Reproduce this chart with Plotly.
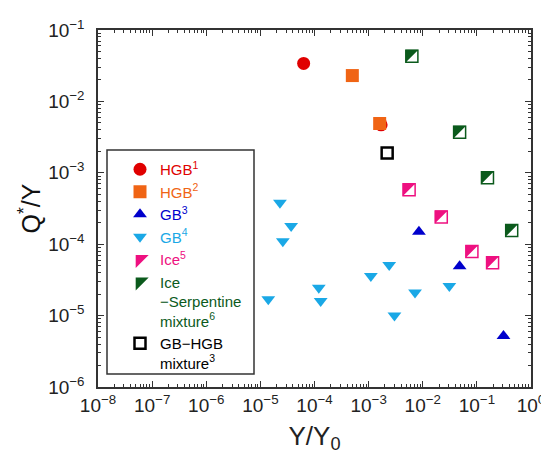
import plotly.graph_objects as go

# ---------------- data ----------------
hgb1_x = [6.3e-5, 1.7e-3]
hgb1_y = [3.4e-2, 4.7e-3]

hgb2_x = [5.0e-4, 1.6e-3]
hgb2_y = [2.3e-2, 4.9e-3]

gb3_x = [8.5e-3, 4.8e-2, 0.31]
gb3_y = [1.5e-4, 4.9e-5, 5.2e-6]

gb4_x = [2.3e-5, 3.7e-5, 2.6e-5, 1.4e-5, 1.2e-4, 1.3e-4, 1.1e-3, 2.4e-3, 3.0e-3, 7.2e-3, 3.1e-2]
gb4_y = [3.8e-4, 1.8e-4, 1.1e-4, 1.7e-5, 2.45e-5, 1.6e-5, 3.6e-5, 5.1e-5, 1.0e-5, 2.1e-5, 2.6e-5]

ice_x = [5.6e-3, 2.2e-2, 8.1e-2, 0.195]
ice_y = [5.8e-4, 2.4e-4, 7.9e-5, 5.5e-5]

ser_x = [6.3e-3, 4.8e-2, 0.157, 0.44]
ser_y = [4.3e-2, 3.7e-3, 8.5e-4, 1.55e-4]

mix_x = [2.2e-3]
mix_y = [1.9e-3]

x_tickvals = [1e-8, 1e-7, 1e-6, 1e-5, 1e-4, 1e-3, 1e-2, 1e-1, 1]
x_ticktext = ["10<sup>−8</sup>", "10<sup>−7</sup>", "10<sup>−6</sup>", "10<sup>−5</sup>",
              "10<sup>−4</sup>", "10<sup>−3</sup>", "10<sup>−2</sup>", "10<sup>−1</sup>",
              "10<sup>0</sup>"]
y_tickvals = [1e-6, 1e-5, 1e-4, 1e-3, 1e-2, 1e-1]
y_ticktext = ["10<sup>−6</sup>", "10<sup>−5</sup>", "10<sup>−4</sup>", "10<sup>−3</sup>",
              "10<sup>−2</sup>", "10<sup>−1</sup>"]

# legend labels, one list entry per text line
names = {
    "hgb1": ["HGB<sup>1</sup>"],
    "hgb2": ["HGB<sup>2</sup>"],
    "gb3": ["GB<sup>3</sup>"],
    "gb4": ["GB<sup>4</sup>"],
    "ice": ["Ice<sup>5</sup>"],
    "ser": ["Ice", "−Serpentine", "mixture<sup>6</sup>"],
    "mix": ["GB−HGB", "mixture<sup>3</sup>"],
}

# ---------------- styling ----------------
RED = "#e00000"
ORANGE = "#f06414"
BLUE = "#0000cc"
CYAN = "#1aa8e6"
PINK = "#ee1080"
GREEN = "#0b5a1c"
FONT = "Liberation Sans, Arial, sans-serif"

OFF = 8                        # page body margin of the browser
W, H = 549 - OFF, 457 - OFF
# plot area in page pixels: x 98..531, y 30..387
ML, MT = 98 - OFF, 30 - OFF
MR, MB = W - (531 - OFF), H - (387 - OFF)
PW, PH = W - ML - MR, H - MT - MB
XR = [-8, 0]
YR = [-6, -1]
SQ = 13  # square marker size (px)

# half-filled squares: a right triangle drawn on a twin axis whose range is
# offset so the triangle sits in the upper-left half of the square
shift_px = SQ / 6.0
dx = shift_px * (XR[1] - XR[0]) / PW
dy = shift_px * (YR[1] - YR[0]) / PH


def px_x(p):   # page x pixel -> paper fraction
    return (p - OFF - ML) / PW


def px_y(p):   # page y pixel -> paper fraction
    return 1 - (p - OFF - MT) / PH


def label(color, lines):
    return "<br>".join('<span style="color:%s">%s</span>' % (color, t) for t in lines)


fig = go.Figure()

fig.add_trace(go.Scatter(x=hgb1_x, y=hgb1_y, mode="markers", name=label(RED, names["hgb1"]),
                         legendgroup="a", marker=dict(symbol="circle", size=13, color=RED)))
fig.add_trace(go.Scatter(x=hgb2_x, y=hgb2_y, mode="markers", name=label(ORANGE, names["hgb2"]),
                         legendgroup="b", marker=dict(symbol="square", size=SQ, color=ORANGE)))
fig.add_trace(go.Scatter(x=gb3_x, y=gb3_y, mode="markers", name=label(BLUE, names["gb3"]),
                         legendgroup="c", marker=dict(symbol="triangle-up", size=12, color=BLUE)))
fig.add_trace(go.Scatter(x=gb4_x, y=gb4_y, mode="markers", name=label(CYAN, names["gb4"]),
                         legendgroup="d", marker=dict(symbol="triangle-down", size=12, color=CYAN)))

# Ice: outline square + filled triangle
fig.add_trace(go.Scatter(x=ice_x, y=ice_y, mode="markers", showlegend=False, legendgroup="e",
                         marker=dict(symbol="square", size=SQ - 1, color="white",
                                     line=dict(color=PINK, width=1.5))))
fig.add_trace(go.Scatter(x=ice_x, y=ice_y, mode="markers", name=label(PINK, names["ice"]),
                         legendgroup="e", xaxis="x2", yaxis="y2",
                         marker=dict(symbol="triangle-nw", size=SQ / 0.9, color=PINK)))

# Ice-Serpentine mixture
fig.add_trace(go.Scatter(x=ser_x, y=ser_y, mode="markers", showlegend=False, legendgroup="f",
                         marker=dict(symbol="square", size=SQ - 1, color="white",
                                     line=dict(color=GREEN, width=1.5))))
fig.add_trace(go.Scatter(x=ser_x, y=ser_y, mode="markers", name=label(GREEN, names["ser"]),
                         legendgroup="f", xaxis="x2", yaxis="y2",
                         marker=dict(symbol="triangle-nw", size=SQ / 0.9, color=GREEN)))

# GB-HGB mixture
fig.add_trace(go.Scatter(x=mix_x, y=mix_y, mode="markers", name=label("#000000", names["mix"]),
                         legendgroup="g",
                         marker=dict(symbol="square", size=SQ - 2, color="white",
                                     line=dict(color="black", width=2.5))))

minor_x = [k * 10.0 ** p for p in range(XR[0], XR[1]) for k in range(2, 10)]
minor_y = [k * 10.0 ** p for p in range(YR[0], YR[1]) for k in range(2, 10)]

axis_common = dict(
    type="log", showgrid=False, zeroline=False, showline=True, automargin=False,
    linecolor="#333333", linewidth=1.5, mirror="ticks",
    ticks="inside", ticklen=6, tickwidth=1, tickcolor="#333333",
    tickfont=dict(family=FONT, size=19, color="#222222"),
)

fig.update_layout(
    template="none",
    width=W, height=H,
    margin=dict(l=ML, r=MR, t=MT, b=MB, pad=0),
    paper_bgcolor="white", plot_bgcolor="white",
    font=dict(family=FONT, color="#222222"),
    xaxis=dict(axis_common, range=XR, tickmode="array", tickvals=x_tickvals, ticktext=x_ticktext,
               minor=dict(ticks="inside", ticklen=3, tickwidth=1, tickcolor="#333333",
                          tickmode="array", tickvals=minor_x),
               title=dict(text="Y/Y<sub>0</sub>", font=dict(family=FONT, size=26, color="#222222"),
                          standoff=12)),
    yaxis=dict(axis_common, range=YR, tickmode="array", tickvals=y_tickvals, ticktext=y_ticktext,
               ticklabelstandoff=8,
               minor=dict(ticks="inside", ticklen=3, tickwidth=1, tickcolor="#333333",
                          tickmode="array", tickvals=minor_y),
               title=dict(text="Q<sup>*</sup>/Y", font=dict(family=FONT, size=25, color="#111111"),
                          standoff=0)),
    xaxis2=dict(type="log", range=[XR[0] + dx, XR[1] + dx], overlaying="x", visible=False,
                showgrid=False, zeroline=False),
    yaxis2=dict(type="log", range=[YR[0] - dy, YR[1] - dy], overlaying="y", visible=False,
                showgrid=False, zeroline=False),
    showlegend=True,
    legend=dict(x=px_x(120), y=px_y(153), xanchor="left", yanchor="top",
                bgcolor="rgba(0,0,0,0)", borderwidth=0, valign="top",
                font=dict(family=FONT, size=15), tracegroupgap=0, itemsizing="trace"),
    shapes=[dict(type="rect", xref="paper", yref="paper",
                 x0=px_x(107), x1=px_x(254), y0=px_y(374), y1=px_y(150),
                 line=dict(color="#333333", width=1.5), fillcolor="rgba(0,0,0,0)", layer="above")],
)

fig.write_html("out.html")
